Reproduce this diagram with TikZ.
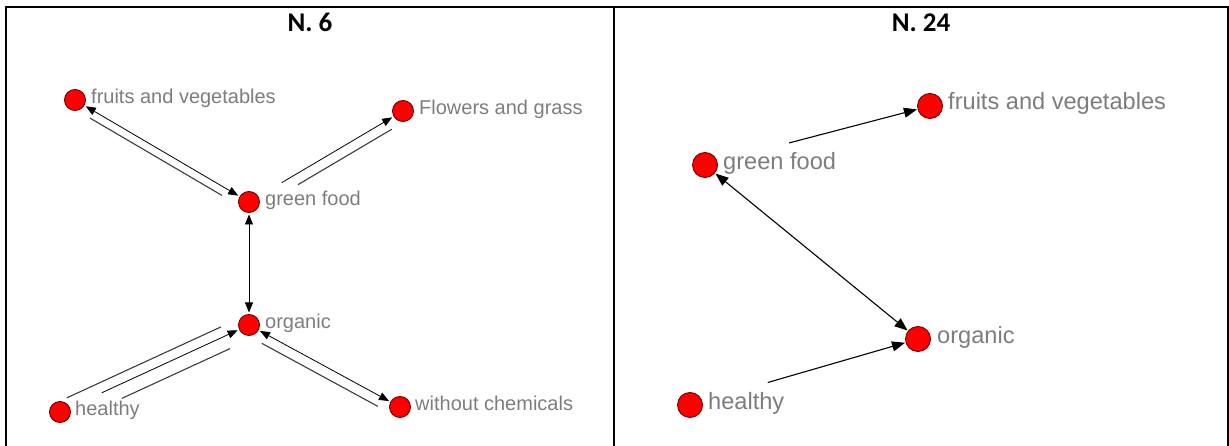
\documentclass[tikz,border=0pt]{standalone}
\usepackage{fontspec}
\setmainfont{Liberation Sans}
\newfontfamily\headfont{Carlito}[BoldFont={Carlito Bold}]
\usetikzlibrary{calc,arrows.meta}
\definecolor{nodered}{RGB}{255,0,0}
\definecolor{noderim}{RGB}{110,0,0}
\definecolor{labelgray}{RGB}{125,125,125}
\definecolor{twinline}{RGB}{60,60,60}
\tikzset{
  vert/.style={circle,fill=nodered,draw=noderim,line width=0.9pt,minimum size=21pt,inner sep=0pt,outer sep=0pt},
  vertbig/.style={vert,minimum size=25pt},
  lbl/.style={anchor=base west,inner sep=0pt,text=labelgray,font=\fontsize{20}{21}\selectfont},
  lblbig/.style={lbl,font=\fontsize{23.6}{24}\selectfont},
  head/.style={anchor=base,inner sep=0pt,font=\headfont\bfseries\fontsize{27}{28}\selectfont},
  rel/.style={black,line width=0.8pt,{Triangle[length=10pt,width=8pt]}-{Triangle[length=10pt,width=8pt]},shorten <=2pt,shorten >=2pt},
  relto/.style={black,line width=0.8pt,-{Triangle[length=10pt,width=8pt]},shorten >=2pt},
  twin/.style={twinline,line width=1.1pt},
  relbig/.style={black,line width=1.1pt,{Triangle[length=13pt,width=10pt]}-{Triangle[length=13pt,width=10pt]},shorten <=1pt,shorten >=1pt},
  reltobig/.style={black,line width=1.1pt,-{Triangle[length=13pt,width=10pt]},shorten >=1pt},
  frame/.style={black,line width=2pt}
}
\begin{document}
\begin{tikzpicture}[x=1pt,y=-1pt]
\useasboundingbox (0,0) rectangle (1229,446);

% table frame
\draw[frame] (6,446) -- (6,7.5) -- (1228,7.5) -- (1228,446);
\draw[frame] (614,7.5) -- (614,446);
\node[head] (t6) at (310,32) {N. 6};
\node[head] (t24) at (921,32) {N. 24};

% ---- left network ----
\node[vert] (fv) at (75,100) {};
\node[vert] (fg) at (403,111) {};
\node[vert] (gf) at (249,202) {};
\node[vert] (og) at (249,325) {};
\node[vert] (hl) at (60,412) {};
\node[vert] (wc) at (400,407) {};
\node[lbl] (fv-t) at ($(fv)+(16,3.5)$) {fruits and vegetables};
\node[lbl] (fg-t) at ($(fg)+(16,3.5)$) {Flowers and grass};
\node[lbl] (gf-t) at ($(gf)+(16,3.5)$) {green food};
\node[lbl] (og-t) at ($(og)+(16,3.5)$) {organic};
\node[lbl] (hl-t) at ($(hl)+(15,3.5)$) {healthy};
\node[lbl] (wc-t) at ($(wc)+(15,3)$) {without chemicals};

% fruits and vegetables <-> green food
\draw[rel] (fv) -- (gf);
\draw[twin] ($(fv)!22pt!(gf)!8pt!-90:(gf)$) -- ($(fv)!175pt!(gf)!8pt!90:(fv)$);
% green food -> Flowers and grass
\draw[relto] ($(gf)!38pt!(fg)$) -- (fg);
\draw[twin] ($(gf)!51pt!(fg)!10pt!-90:(fg)$) -- ($(gf)!160pt!(fg)!10pt!90:(gf)$);
% green food <-> organic
\draw[rel] (gf) -- (og);
% organic <-> without chemicals
\draw[rel] (og) -- (wc);
\draw[twin] ($(og)!20pt!(wc)!10pt!-90:(wc)$) -- ($(og)!152pt!(wc)!10pt!90:(og)$);
% healthy -> organic
\draw[relto] ($(hl)!46pt!(og)$) -- (og);
\draw[twin] ($(hl)!12pt!(og)!10pt!90:(og)$) -- ($(hl)!182pt!(og)!10pt!-90:(hl)$);
\draw[twin] ($(hl)!62pt!(og)!13.5pt!-90:(og)$) -- ($(hl)!181pt!(og)!13.5pt!90:(hl)$);

% ---- right network ----
\node[vertbig] (rfv) at (930,106) {};
\node[vertbig] (rgf) at (705,165) {};
\node[vertbig] (rog) at (918,339) {};
\node[vertbig] (rhl) at (690,405) {};
\node[lblbig] (rfv-t) at ($(rfv)+(18,4)$) {fruits and vegetables};
\node[lblbig] (rgf-t) at ($(rgf)+(18,4.5)$) {green food};
\node[lblbig] (rog-t) at ($(rog)+(19,4)$) {organic};
\node[lblbig] (rhl-t) at ($(rhl)+(18,4.5)$) {healthy};

\draw[reltobig] ($(rgf)!87pt!(rfv)$) -- (rfv);
\draw[relbig] (rgf) -- (rog);
\draw[reltobig] ($(rhl)!81pt!(rog)$) -- (rog);
\end{tikzpicture}
\end{document}
